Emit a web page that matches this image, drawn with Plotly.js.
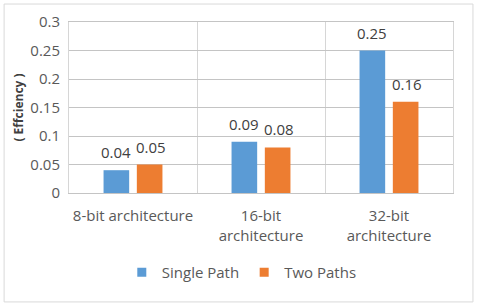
<!DOCTYPE html>
<html><head><meta charset="utf-8">
<script src="https://cdn.plot.ly/plotly-3.0.1.min.js"></script>
<style>html,body{margin:0;padding:0;background:#fff;}#chart{width:480px;height:307px;}</style>
</head><body><div id="chart"></div>
<script>
const categories = ["8-bit architecture", "16-bit<br>architecture", "32-bit<br>architecture"];
const seriesNames = ["Single Path", "Two Paths"];
const singlePath = [0.04, 0.09, 0.25];
const twoPaths = [0.05, 0.08, 0.16];
const seriesColors = ["#5B9BD5", "#ED7D31"];
const yMax = 0.3;
const yStep = 0.05;

const FAM = "Open Sans, Liberation Sans, sans-serif";
const font = {family: FAM, size: 15, color: "#595959"};
const series = [singlePath, twoPaths];
const barShift = [-17.5, 17.5];
const GRID = "#C4C4C4";
const mk = (i) => ({
  type: "bar", name: seriesNames[i], x: categories, y: series[i],
  marker: {color: seriesColors[i]},
  showlegend: false, hoverinfo: "skip"
});
const leg = (i) => ({
  type: "scatter", mode: "markers", name: seriesNames[i], x: [null], y: [null],
  marker: {symbol: "square", size: 9, color: seriesColors[i]}, showlegend: true, hoverinfo: "skip"
});
const data = [mk(0), mk(1), leg(0), leg(1)];
const annotations = [];
series.forEach((vals, i) => vals.forEach((v, j) => annotations.push({
  x: categories[j], y: v, xref: "x", yref: "y", text: String(v), showarrow: false,
  xshift: barShift[i], yshift: 6, yanchor: "bottom", xanchor: "center",
  font: {family: FAM, size: 15, color: "#404040"}
})));
const layout = {
  width: 480, height: 307,
  margin: {l: 69, r: 27, t: 22, b: 114},
  paper_bgcolor: "#fff", plot_bgcolor: "#fff",
  font: font,
  barmode: "group", bargap: 0.48, bargroupgap: 0.23,
  showlegend: true,
  legend: {orientation: "h", x: 0.45, xanchor: "center", y: -0.465, yanchor: "middle",
           font: {family: FAM, size: 15, color: "#595959"}, itemwidth: 30, traceorder: "normal"},
  xaxis: {type: "category", tickson: "boundaries", showgrid: true, gridcolor: "#D6D6D6", gridwidth: 1,
          ticks: "", tickangle: 0, showline: true, mirror: true, linecolor: GRID, linewidth: 1,
          tickfont: font, ticklabelstandoff: 9, fixedrange: true},
  yaxis: {range: [0, yMax], tick0: 0, dtick: yStep, showgrid: true, gridcolor: GRID, gridwidth: 1,
          zeroline: true, zerolinecolor: GRID, zerolinewidth: 1, showline: true, mirror: true, linecolor: "#D6D6D6", linewidth: 1,
          tickfont: font, ticks: "", ticklabelstandoff: 5,
          title: {text: "( Effciency )", font: {family: FAM, size: 12, color: "#404040", weight: "bold"}, standoff: 4}},
  annotations: annotations,
  shapes: [{type: "rect", xref: "paper", yref: "paper", x0: -0.169, x1: 1.052, y0: -0.637, y1: 1.105,
            line: {color: "#D9D9D9", width: 1}, layer: "below"}]
};
Plotly.newPlot("chart", data, layout, {staticPlot: true, displayModeBar: false});
</script></body></html>
